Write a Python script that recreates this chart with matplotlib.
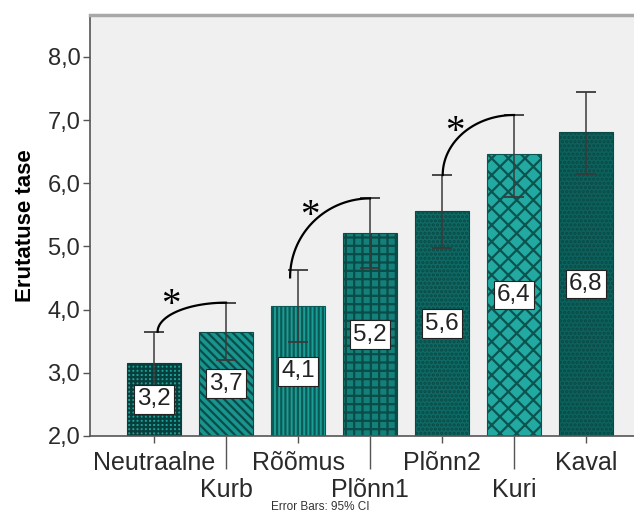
import numpy as np
import matplotlib
matplotlib.use('Agg')
import matplotlib.pyplot as plt

plt.rcParams['font.family'] = ['Liberation Sans', 'DejaVu Sans']
plt.rcParams['hatch.linewidth'] = 1.6

# data
categories = ['Neutraalne', 'Kurb', 'Rõõmus', 'Plõnn1', 'Plõnn2', 'Kuri', 'Kaval']
means = [3.16, 3.65, 4.05, 5.21, 5.56, 6.46, 6.81]
ci_low = [2.66, 3.20, 3.48, 4.66, 4.98, 5.79, 6.14]
ci_high = [3.65, 4.11, 4.63, 5.76, 6.13, 7.08, 7.44]
value_labels = ['3,2', '3,7', '4,1', '5,2', '5,6', '6,4', '6,8']
sig_pairs = [(0, 1), (2, 3), (4, 5)]

# bar looks (face, hatch/edge colour, hatch)
looks = [
    ('#1aa39c', '#083f3c', '++++'),
    ('#17958e', '#0b4c48', '\\\\\\\\'),
    ('#1a9d96', '#0b5a55', '||||'),
    ('#138179', '#0a4c48', '++'),
    ('#0f6964', '#0a4a46', '....'),
    ('#22aaa2', '#0b5450', 'xx'),
    ('#0d625d', '#0a4945', '....'),
]
# small placement tweaks for arc starts and stars
arc_dx = [0.05, -0.11, 0.01]
arc_dy = [0.0, -0.12, 0.0]
star_dx = [0.24, 0.17, 0.18]
star_dy = [-0.05, -0.28, -0.28]

fig = plt.figure(figsize=(6.34, 5.24), dpi=100)
ax = fig.add_axes([0.142, 0.168, 0.858, 0.803])
ax.set_facecolor('#f0f0f0')

x = np.arange(len(categories))
for i in x:
    fc, ec, h = looks[i]
    ax.bar(i, means[i] - 2.0, bottom=2.0, width=0.76, color=fc,
           edgecolor=ec, hatch=h, linewidth=0.8, zorder=2)

yerr = [np.array(means) - np.array(ci_low), np.array(ci_high) - np.array(means)]
ax.errorbar(x, means, yerr=yerr, fmt='none', ecolor='#3a3a3a', elinewidth=1.1,
            capsize=7, capthick=1.3, zorder=3)

for i in x:
    ax.text(i, (2.0 + means[i]) / 2, value_labels[i], ha='center', va='center',
            fontsize=17.5, color='#222222', zorder=5,
            bbox=dict(boxstyle='square,pad=0.14', fc='white', ec='#222222', lw=0.8))

# significance arcs (quarter ellipses from one CI top to the next)
t = np.linspace(0, np.pi / 2, 60)
for k, (a, b) in enumerate(sig_pairs):
    x0, y0 = a + arc_dx[k], ci_high[a] + arc_dy[k]
    x1, y1 = b, ci_high[b]
    ax.plot(x1 - (x1 - x0) * np.cos(t), y0 + (y1 - y0) * np.sin(t),
            color='black', lw=1.6, zorder=4)
    ax.text(a + star_dx[k], y1 + star_dy[k], '*', ha='center', va='center',
            fontsize=28, family='Liberation Serif', zorder=4)

ax.set_xlim(-0.889, 6.667)
ax.set_ylim(2.0, 8.66)
ax.set_yticks([2, 3, 4, 5, 6, 7, 8])
ax.set_yticklabels(['2,0', '3,0', '4,0', '5,0', '6,0', '7,0', '8,0'])
ax.tick_params(axis='y', length=5, width=1, color='#555555', pad=2,
               labelsize=17, labelcolor='#2a2a2a')

# staggered category labels: even ones short tick, odd ones long tick
ax.set_xticks(x[::2])
ax.set_xticklabels(categories[::2])
ax.set_xticks(x[1::2], minor=True)
ax.set_xticklabels(categories[1::2], minor=True)
ax.tick_params(axis='x', which='major', length=5, width=1, color='#555555',
               pad=6, labelsize=18, labelcolor='#2a2a2a')
ax.tick_params(axis='x', which='minor', length=24, width=1, color='#555555',
               pad=6, labelsize=18, labelcolor='#2a2a2a')

ax.set_ylabel('Erutatuse tase', fontsize=16, fontweight='bold', labelpad=8)

for s in ['left', 'bottom']:
    ax.spines[s].set_color('#555555')
    ax.spines[s].set_linewidth(1.2)
ax.spines['top'].set_color('#a8a8a8')
ax.spines['top'].set_linewidth(2.5)
ax.spines['right'].set_visible(False)

fig.text(0.505, 0.032, 'Error Bars: 95% CI', ha='center', va='center',
         fontsize=8.5, color='#333333')

fig.savefig('out.png', dpi=100)
